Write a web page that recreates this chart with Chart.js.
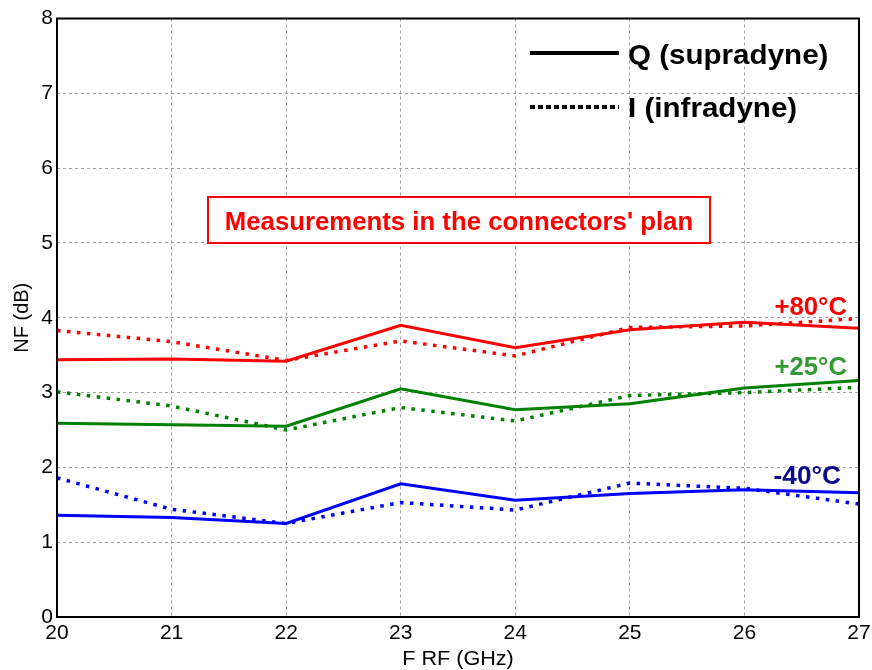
<!DOCTYPE html>
<html>
<head>
<meta charset="utf-8">
<script src="https://cdn.jsdelivr.net/npm/chart.js@4.4.1/dist/chart.umd.min.js"></script>
<style>
  html, body { margin: 0; padding: 0; background: #ffffff; }
  #wrap { width: 872px; height: 670px; position: relative; }
</style>
</head>
<body>
<div id="wrap"><canvas id="nf"></canvas></div>
<script>
// RF frequency points (GHz)
const freqGHz = [20, 21, 22, 23, 24, 25, 26, 27];

// Noise figure (dB), Q channel (supradyne) - solid
const q80 = [3.44, 3.45, 3.42, 3.90, 3.60, 3.84, 3.94, 3.86];
const q25 = [2.59, 2.57, 2.55, 3.05, 2.77, 2.85, 3.06, 3.16];
const qM40 = [1.36, 1.33, 1.25, 1.78, 1.56, 1.65, 1.70, 1.66];

// Noise figure (dB), I channel (infradyne) - dotted
const i80 = [3.83, 3.68, 3.43, 3.69, 3.49, 3.87, 3.89, 3.99];
const i25 = [3.01, 2.82, 2.50, 2.80, 2.62, 2.96, 3.00, 3.07];
const iM40 = [1.86, 1.44, 1.25, 1.53, 1.43, 1.79, 1.72, 1.51];

const yTicks = [0, 1, 2, 3, 4, 5, 6, 7, 8];
const xTicks = [20, 21, 22, 23, 24, 25, 26, 27];

const RED = '#ff0000', GREEN = '#008000', BLUE = '#0000ff';
const FONT = '"Liberation Sans", Arial, sans-serif';

const pts = arr => arr.map((v, i) => ({ x: freqGHz[i], y: v }));

function series(label, values, color, dotted) {
  return {
    label,
    data: pts(values),
    borderColor: color,
    backgroundColor: color,
    borderWidth: dotted ? 3.5 : 3,
    borderDash: dotted ? [3.5, 6.5] : [],
    borderCapStyle: 'butt',
    pointRadius: 0,
    tension: 0,
    fill: false
  };
}

// draws text slightly widened horizontally
function wideText(ctx, text, x, y, sx) {
  ctx.save();
  ctx.translate(x, y);
  ctx.scale(sx, 1);
  ctx.fillText(text, 0, 0);
  ctx.restore();
}

// Frame, legend, annotation box and text labels
const decorations = {
  id: 'decorations',
  afterDraw(chart) {
    const { ctx, chartArea: a } = chart;
    ctx.save();

    // plot frame
    ctx.strokeStyle = '#000';
    ctx.lineWidth = 2;
    ctx.setLineDash([]);
    ctx.strokeRect(a.left, a.top, a.right - a.left, a.bottom - a.top);

    // legend
    ctx.lineWidth = 4;
    ctx.beginPath(); ctx.moveTo(530, 53); ctx.lineTo(619, 53); ctx.stroke();
    ctx.setLineDash([5, 3]);
    ctx.beginPath(); ctx.moveTo(530, 107); ctx.lineTo(619, 107); ctx.stroke();
    ctx.setLineDash([]);
    ctx.fillStyle = '#000';
    ctx.textAlign = 'left';
    ctx.textBaseline = 'alphabetic';
    ctx.font = 'bold 27px ' + FONT;
    wideText(ctx, 'Q (supradyne)', 628, 64, 1.095);
    wideText(ctx, 'I (infradyne)', 628, 117, 1.095);

    // annotation box
    ctx.fillStyle = '#fff';
    ctx.fillRect(208, 197, 502, 46);
    ctx.strokeStyle = RED;
    ctx.lineWidth = 2;
    ctx.strokeRect(208, 197, 502, 46);
    ctx.fillStyle = RED;
    ctx.textAlign = 'center';
    ctx.font = 'bold 25px ' + FONT;
    wideText(ctx, "Measurements in the connectors' plan", 459, 230, 1.03);

    // temperature labels
    ctx.textAlign = 'right';
    ctx.font = 'bold 25px ' + FONT;
    ctx.fillStyle = RED;
    wideText(ctx, '+80°C', 847, 315, 1.03);
    ctx.fillStyle = '#339933';
    wideText(ctx, '+25°C', 847, 375, 1.03);
    ctx.fillStyle = '#0a0a8c';
    wideText(ctx, '-40°C', 841, 484, 1.05);

    // axis titles
    ctx.fillStyle = '#000';
    ctx.font = '20px ' + FONT;
    ctx.textAlign = 'center';
    ctx.textBaseline = 'middle';
    wideText(ctx, 'F RF (GHz)', (a.left + a.right) / 2, 659, 1.08);
    ctx.translate(22, (a.top + a.bottom) / 2);
    ctx.rotate(-Math.PI / 2);
    ctx.fillText('NF (dB)', 0, 0);

    ctx.restore();
  }
};

new Chart(document.getElementById('nf'), {
  type: 'line',
  data: {
    datasets: [
      series('Q +80°C', q80, RED, false),
      series('I +80°C', i80, RED, true),
      series('Q +25°C', q25, GREEN, false),
      series('I +25°C', i25, GREEN, true),
      series('Q -40°C', qM40, BLUE, false),
      series('I -40°C', iM40, BLUE, true)
    ]
  },
  options: {
    responsive: true,
    maintainAspectRatio: false,
    animation: false,
    layout: { padding: { top: 18.5, right: 13, left: 0, bottom: 0 } },
    plugins: { legend: { display: false }, tooltip: { enabled: false } },
    scales: {
      x: {
        type: 'linear',
        min: xTicks[0],
        max: xTicks[xTicks.length - 1],
        afterBuildTicks: s => { s.ticks = xTicks.map(v => ({ value: v })); },
        afterFit: s => { s.height = 53; s.paddingLeft = 0; s.paddingRight = 0; },
        ticks: { color: '#000', font: { family: FONT, size: 21 }, padding: 4, maxRotation: 0, autoSkip: false },
        grid: { color: '#a0a0a0', lineWidth: 1, drawTicks: false },
        border: { display: false, dash: [3, 3] }
      },
      y: {
        min: yTicks[0],
        max: yTicks[yTicks.length - 1],
        afterBuildTicks: s => { s.ticks = yTicks.map(v => ({ value: v })); },
        afterFit: s => { s.width = 57; s.paddingTop = 0; s.paddingBottom = 0; },
        ticks: { color: '#000', font: { family: FONT, size: 21 }, padding: 4 },
        grid: { color: '#a0a0a0', lineWidth: 1, drawTicks: false },
        border: { display: false, dash: [3, 3] }
      }
    }
  },
  plugins: [decorations]
});
</script>
</body>
</html>
